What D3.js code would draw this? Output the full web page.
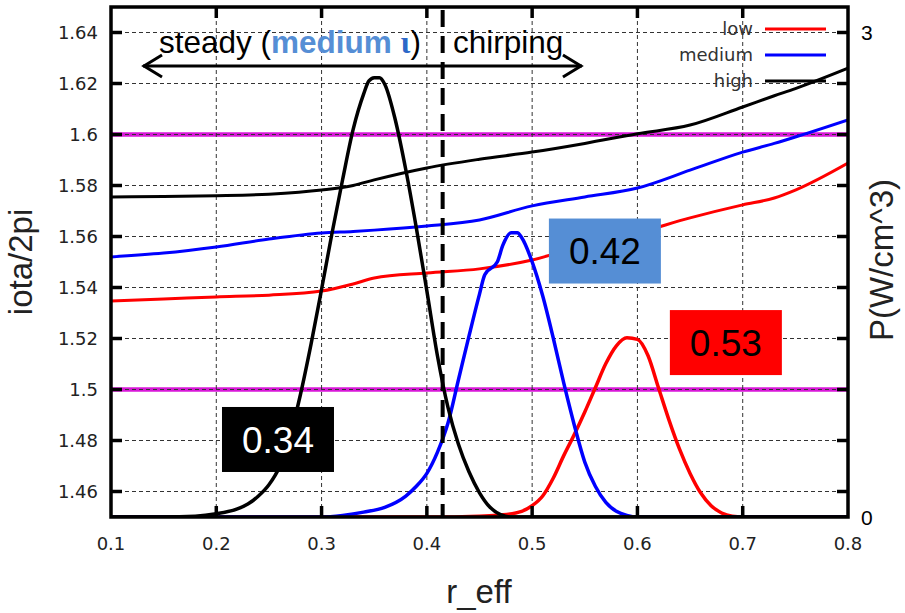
<!DOCTYPE html>
<html>
<head>
<meta charset="utf-8">
<script src="https://cdn.jsdelivr.net/npm/d3@7"></script>
<style>
  html, body { margin: 0; padding: 0; background: #fff; }
  svg { display: block; }
</style>
</head>
<body>
<svg id="chart" width="905" height="613"></svg>
<script>
// ---- rotational transform profiles, iota/2pi vs r_eff ----
const iotaR = [0.10, 0.15, 0.20, 0.25, 0.30, 0.33, 0.35, 0.40, 0.45, 0.50, 0.55, 0.60, 0.65, 0.70, 0.73, 0.75, 0.80];
const iotaLow    = [1.5347, 1.5355, 1.5363, 1.5370, 1.5386, 1.5414, 1.5437, 1.5457, 1.5473, 1.5508, 1.5567, 1.5614, 1.5673, 1.5724, 1.5751, 1.5782, 1.5888];
const iotaMedium = [1.5520, 1.5535, 1.5559, 1.5590, 1.5614, 1.5620, 1.5625, 1.5641, 1.5665, 1.5720, 1.5755, 1.5790, 1.5860, 1.5931, 1.5965, 1.5990, 1.6057];
const iotaHigh   = [1.5755, 1.5757, 1.5760, 1.5766, 1.5782, 1.5800, 1.5822, 1.5869, 1.5903, 1.5931, 1.5965, 1.6003, 1.6037, 1.6108, 1.6152, 1.6180, 1.6260];

// ---- deposited power profiles, P (W/cm^3) vs r_eff ----
const powerHighR = [0.10, 0.15, 0.18, 0.20, 0.22, 0.23, 0.24, 0.25, 0.26, 0.27, 0.28, 0.29, 0.30, 0.31, 0.32, 0.33, 0.34, 0.345, 0.35, 0.355, 0.36, 0.37, 0.38, 0.39, 0.40, 0.41, 0.42, 0.43, 0.44, 0.45, 0.46, 0.47, 0.48, 0.50, 0.80];
const powerHigh  = [0, 0, 0.005, 0.02, 0.05, 0.08, 0.13, 0.20, 0.31, 0.50, 0.76, 1.07, 1.41, 1.76, 2.09, 2.40, 2.62, 2.70, 2.72, 2.72, 2.68, 2.46, 2.15, 1.79, 1.40, 1.00, 0.68, 0.45, 0.28, 0.15, 0.06, 0.015, 0, 0, 0];
const powerMediumR = [0.10, 0.30, 0.32, 0.34, 0.36, 0.38, 0.39, 0.40, 0.41, 0.42, 0.43, 0.44, 0.45, 0.455, 0.467, 0.472, 0.48, 0.486, 0.49, 0.50, 0.51, 0.52, 0.53, 0.54, 0.55, 0.56, 0.57, 0.58, 0.59, 0.60, 0.80];
const powerMedium  = [0, 0, 0.01, 0.03, 0.06, 0.13, 0.19, 0.27, 0.40, 0.58, 0.85, 1.12, 1.38, 1.50, 1.58, 1.68, 1.76, 1.76, 1.73, 1.58, 1.37, 1.11, 0.83, 0.57, 0.34, 0.19, 0.09, 0.035, 0.01, 0, 0];
const powerLowR = [0.10, 0.42, 0.45, 0.47, 0.49, 0.50, 0.51, 0.52, 0.53, 0.54, 0.55, 0.56, 0.57, 0.58, 0.59, 0.60, 0.61, 0.62, 0.63, 0.64, 0.65, 0.66, 0.67, 0.68, 0.69, 0.70, 0.80];
const powerLow  = [0, 0, 0.005, 0.012, 0.035, 0.07, 0.13, 0.24, 0.38, 0.51, 0.65, 0.80, 0.95, 1.06, 1.11, 1.10, 1.00, 0.80, 0.60, 0.42, 0.27, 0.15, 0.07, 0.025, 0.005, 0, 0];

// ---- axes, reference lines and annotations ----
const xTicks = [0.1, 0.2, 0.3, 0.4, 0.5, 0.6, 0.7, 0.8];
const yTicks = [1.46, 1.48, 1.5, 1.52, 1.54, 1.56, 1.58, 1.6, 1.62, 1.64];
const y2Labels = [0, 3];
const resonances = [1.5, 1.6];
const boundaryR = 0.415;
const seriesNames = ["low", "medium", "high"];
const seriesColors = ["#ff0000", "#0000ff", "#000000"];
const boxLabels = ["0.34", "0.42", "0.53"];
const boxR = [0.2586, 0.5691, 0.684];
const boxIota = [1.4804, 1.5543, 1.5184];
const boxFill = ["#000000", "#558ed5", "#ff0000"];
const boxText = ["#ffffff", "#000000", "#000000"];

const svg = d3.select("#chart");
const x = d3.scaleLinear().domain([0.1, 0.8]).range([111, 848]);
const y = d3.scaleLinear().domain([1.45, 1.65]).range([517, 7]);
const y2 = d3.scaleLinear().domain([0, 3]).range([y(1.45), y(1.64)]);

const plotL = x(0.1), plotR = x(0.8), plotT = y(1.65), plotB = y(1.45);

svg.append("defs").append("clipPath").attr("id", "plotClip")
  .append("rect").attr("x", plotL).attr("y", plotT)
  .attr("width", plotR - plotL).attr("height", plotB - plotT);

// magenta resonance lines sit underneath the grid
svg.append("g").selectAll("line").data(resonances).join("line")
  .attr("x1", plotL).attr("x2", plotR)
  .attr("y1", d => y(d)).attr("y2", d => y(d))
  .attr("stroke", "#d818d8").attr("stroke-width", 4.5);

// dashed grid
const grid = svg.append("g").attr("stroke", "#333").attr("stroke-width", 1).attr("stroke-dasharray", "4,3");
grid.selectAll(".gx").data(xTicks.slice(1, -1)).join("line")
  .attr("x1", d => x(d)).attr("x2", d => x(d)).attr("y1", plotT).attr("y2", plotB);
grid.selectAll(".gy").data(yTicks).join("line")
  .attr("x1", plotL).attr("x2", plotR).attr("y1", d => y(d)).attr("y2", d => y(d));

// curves
const curves = svg.append("g").attr("clip-path", "url(#plotClip)").attr("fill", "none");
const iotaLine = d3.line().x(d => x(d[0])).y(d => y(d[1])).curve(d3.curveMonotoneX);
const powerLine = d3.line().x(d => x(d[0])).y(d => y2(d[1])).curve(d3.curveMonotoneX);
const iotaSets = [iotaLow, iotaMedium, iotaHigh];
iotaSets.forEach((vals, i) => {
  curves.append("path").attr("d", iotaLine(iotaR.map((r, k) => [r, vals[k]])))
    .attr("stroke", seriesColors[i]).attr("stroke-width", 3);
});
const powerSets = [[powerLowR, powerLow], [powerMediumR, powerMedium], [powerHighR, powerHigh]];
powerSets.forEach(([rs, vals], i) => {
  curves.append("path").attr("d", powerLine(rs.map((r, k) => [r, vals[k]])))
    .attr("stroke", seriesColors[i]).attr("stroke-width", 3.5).attr("stroke-linejoin", "round");
});

// steady / chirping boundary
svg.append("line")
  .attr("x1", x(boundaryR)).attr("x2", x(boundaryR))
  .attr("y1", plotT + 3).attr("y2", plotB)
  .attr("stroke", "#000").attr("stroke-width", 4).attr("stroke-dasharray", "17,9");

// double-headed arrow
const arrowY = y(1.6269), aL = x(0.1304), aR = x(0.5473);
const arrow = svg.append("g").attr("stroke", "#000").attr("stroke-width", 3).attr("fill", "none")
  .attr("stroke-linecap", "butt").attr("stroke-linejoin", "miter");
arrow.append("line").attr("x1", aL).attr("x2", aR).attr("y1", arrowY).attr("y2", arrowY);
arrow.append("path").attr("d", `M${aL + 19},${arrowY - 11} L${aL + 1},${arrowY} L${aL + 19},${arrowY + 11}`);
arrow.append("path").attr("d", `M${aR - 19},${arrowY - 11} L${aR - 1},${arrowY} L${aR - 19},${arrowY + 11}`);

const steady = svg.append("text").attr("x", x(0.1456)).attr("y", y(1.632))
  .attr("font-family", "'Liberation Sans', Arial, sans-serif").attr("font-size", 31.5).attr("fill", "#000");
steady.append("tspan").text("steady (");
steady.append("tspan").attr("font-weight", "bold").attr("fill", "#558ed5").text("medium ");
steady.append("tspan").attr("font-weight", "bold").attr("font-family", "'Liberation Serif', serif").attr("fill", "#2c68c8").text("ι");
steady.append("tspan").text(")");
svg.append("text").attr("x", x(0.4248)).attr("y", y(1.632))
  .attr("font-family", "'Liberation Sans', Arial, sans-serif").attr("font-size", 31.5).attr("fill", "#000")
  .text("chirping");

// value boxes
boxLabels.forEach((lab, i) => {
  const cx = x(boxR[i]), cy = y(boxIota[i]);
  svg.append("rect").attr("x", cx - 56).attr("y", cy - 32.5).attr("width", 112).attr("height", 65)
    .attr("fill", boxFill[i]);
  svg.append("text").attr("x", cx).attr("y", cy).attr("dy", "0.36em").attr("text-anchor", "middle")
    .attr("font-family", "'Liberation Sans', Arial, sans-serif").attr("font-size", 37)
    .attr("fill", boxText[i]).text(lab);
});

// legend
const legend = svg.append("g");
seriesNames.forEach((name, i) => {
  const ly = 29 + i * 26;
  legend.append("text").attr("x", 753).attr("y", ly).attr("dy", "0.36em").attr("text-anchor", "end")
    .attr("font-family", "'DejaVu Sans', sans-serif").attr("font-size", 18).attr("fill", "#333").text(name);
  legend.append("line").attr("x1", 765).attr("x2", 826).attr("y1", ly).attr("y2", ly)
    .attr("stroke", seriesColors[i]).attr("stroke-width", 3);
});

// frame and inward ticks (mirrored on all four sides)
const frame = svg.append("g").attr("stroke", "#000");
const tickLen = 11;
frame.selectAll(".ty").data(yTicks).join("g").each(function (d) {
  const g = d3.select(this);
  g.append("line").attr("x1", plotL).attr("x2", plotL + tickLen).attr("y1", y(d)).attr("y2", y(d)).attr("stroke-width", 3.5);
  g.append("line").attr("x1", plotR).attr("x2", plotR - tickLen).attr("y1", y(d)).attr("y2", y(d)).attr("stroke-width", 3.5);
});
frame.selectAll(".tx").data(xTicks.slice(1, -1)).join("g").each(function (d) {
  const g = d3.select(this);
  g.append("line").attr("x1", x(d)).attr("x2", x(d)).attr("y1", plotB).attr("y2", plotB - tickLen).attr("stroke-width", 3.5);
  g.append("line").attr("x1", x(d)).attr("x2", x(d)).attr("y1", plotT).attr("y2", plotT + tickLen).attr("stroke-width", 3.5);
});
frame.append("rect").attr("x", plotL).attr("y", plotT).attr("width", plotR - plotL).attr("height", plotB - plotT)
  .attr("fill", "none").attr("stroke-width", 3.5);

// tick labels
const tickFont = "'DejaVu Sans', sans-serif";
svg.append("g").selectAll("text").data(yTicks).join("text")
  .attr("x", 98).attr("y", d => y(d)).attr("dy", "0.36em").attr("text-anchor", "end")
  .attr("font-family", tickFont).attr("font-size", 18).attr("fill", "#222")
  .text(d => d3.format("")(d));
svg.append("g").selectAll("text").data(xTicks).join("text")
  .attr("x", d => x(d)).attr("y", 550).attr("text-anchor", "middle")
  .attr("font-family", tickFont).attr("font-size", 18).attr("fill", "#222")
  .text(d => d3.format("")(d));
svg.append("g").selectAll("text").data(y2Labels).join("text")
  .attr("x", 861).attr("y", d => y2(d)).attr("dy", "0.36em")
  .attr("font-family", "'Liberation Sans', Arial, sans-serif").attr("font-size", 21).attr("fill", "#000")
  .text(d => d);

// axis titles
const titleFont = "'Liberation Sans', Arial, sans-serif";
svg.append("text").attr("transform", "translate(32,262) rotate(-90)").attr("text-anchor", "middle")
  .attr("font-family", titleFont).attr("font-size", 33).attr("fill", "#222").text("iota/2pi");
svg.append("text").attr("x", 479).attr("y", 603).attr("text-anchor", "middle")
  .attr("font-family", titleFont).attr("font-size", 33).attr("fill", "#222").text("r_eff");
svg.append("text").attr("transform", "translate(893,260) rotate(-90)").attr("text-anchor", "middle")
  .attr("font-family", titleFont).attr("font-size", 33).attr("fill", "#222").text("P(W/cm^3)");
</script>
</body>
</html>
